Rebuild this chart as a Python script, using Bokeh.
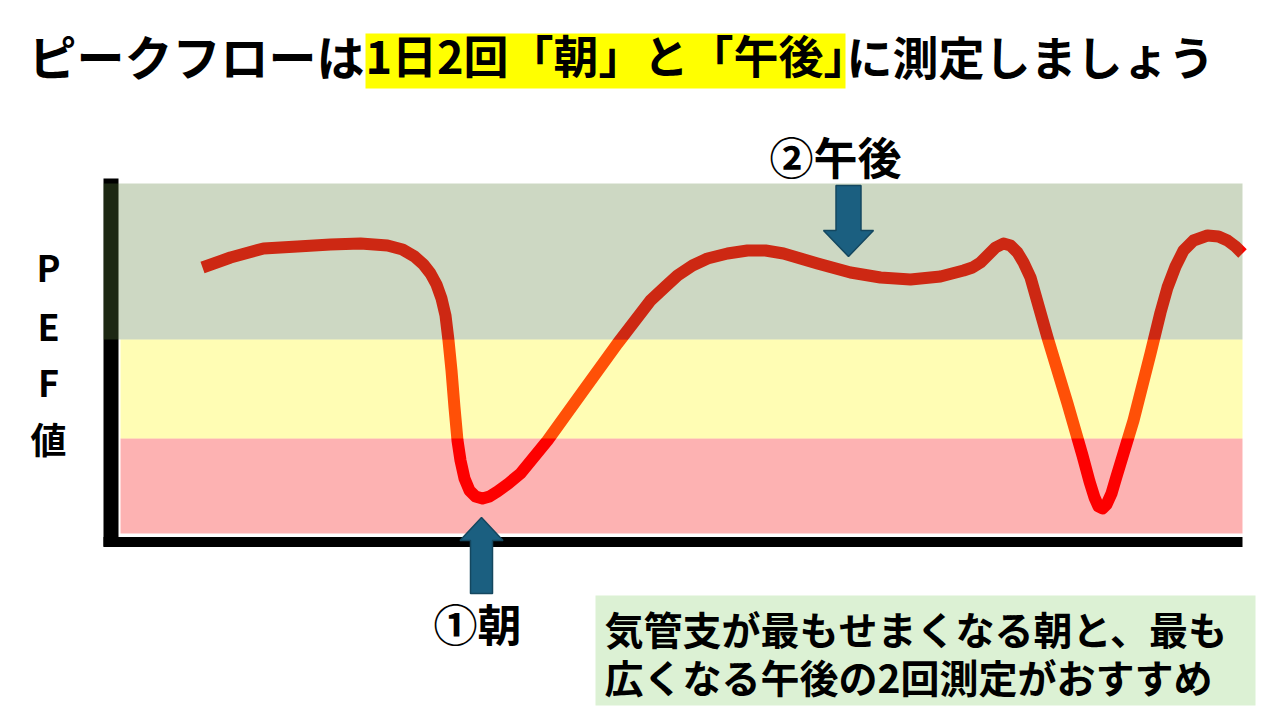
from bokeh.plotting import figure
from bokeh.models import Range1d
from bokeh.core.properties import value
from bokeh.embed import file_html
from bokeh.resources import INLINE

# ---- data (schematic PEF curve) ----
time = [82, 110, 143, 177, 210, 240, 267, 282, 294, 303, 310, 316, 321, 325, 328,
        331, 334, 337, 340, 344, 349, 355, 362, 369, 377, 388, 400, 427, 463, 497,
        530, 545, 557, 572, 587, 607, 627, 645, 663, 697, 730, 760, 790, 820, 843,
        852, 860, 868, 875, 883, 890, 897, 903, 910, 927, 947, 962, 969, 974, 978,
        982, 986, 991, 996, 1013, 1030, 1040, 1047, 1055, 1063, 1073, 1087, 1098, 1107,
        1115, 1122]
pef = [266, 276, 285, 287, 289, 290, 288, 284, 277, 269, 260, 249, 235, 218, 193,
       163, 126, 93, 73, 55, 43, 37, 35, 37, 42, 50, 60, 93, 143, 190,
       233, 247, 258, 268, 275, 280, 283, 283, 280, 270, 261, 256, 254, 257, 263,
       266, 271, 279, 286, 290, 288, 281, 271, 256, 196, 130, 78, 52, 36, 27,
       25, 29, 40, 57, 113, 180, 221, 246, 267, 283, 293, 298, 297, 293,
       287, 280]

# zones (bottom, top) : red / yellow / green
zone_names = ["red", "yellow", "green"]
zone_bottom = [0, 95, 194]
zone_top = [95, 194, 350]
time_end = 1122

# measurement moments
morning_time = 361
afternoon_time = 728

title_parts = ["ピークフローは", "1日2回「朝」と「午後」", "に測定しましょう"]
ylabel_chars = ["P", "E", "F", "値"]
note_lines = ["気管支が最もせまくなる朝と、最も", "広くなる午後の2回測定がおすすめ"]

FONT = value("Noto Sans CJK JP")

p = figure(width=1272, height=712, output_backend="svg", toolbar_location=None,
           x_range=Range1d(-120, 1152), y_range=Range1d(-179, 533),
           x_axis_location=None, y_axis_location=None, min_border=0,
           outline_line_color=None, background_fill_color="white",
           border_fill_color="white")
p.xgrid.visible = False
p.ygrid.visible = False

# axes (thick black lines)
p.segment(x0=-9.5, y0=-13, x1=-9.5, y1=zone_top[-1] + 5, line_color="black",
          line_width=15, line_cap="butt")
p.segment(x0=-17, y0=-8.5, x1=time_end, y1=-8.5, line_color="black",
          line_width=10, line_cap="butt")

# the PEF curve (drawn under translucent zone bands)
p.line(time, pef, line_color="#ff0000", line_width=12, line_join="round", line_cap="butt")

# translucent zone bands over the curve
band_colors = {"red": "#f70000", "yellow": "#fffa16", "green": "#5e813d"}
band_alpha = {"red": 0.30, "yellow": 0.32, "green": 0.31}
for name, b, t in zip(zone_names, zone_bottom, zone_top):
    left = -17 if name == "green" else 0
    p.quad(left=left, right=time_end, bottom=b, top=t, fill_color=band_colors[name],
           fill_alpha=band_alpha[name], line_color=None)

# arrows
ARROW_FILL = "#1b5f80"
ARROW_LINE = "#14475f"
# up arrow (morning)
m = morning_time
p.patch([m, m + 21.5, m + 11, m + 11, m - 11, m - 11, m - 21.5],
        [16, -7, -7, -60, -60, -7, -7], fill_color=ARROW_FILL, line_color=ARROW_LINE,
        line_width=1.5)
# down arrow (afternoon)
a = afternoon_time
p.patch([a, a + 25, a + 12.5, a + 12.5, a - 12.5, a - 12.5, a - 25],
        [277, 303, 303, 348, 348, 303, 303], fill_color=ARROW_FILL, line_color=ARROW_LINE,
        line_width=1.5)

# title with yellow highlight
p.quad(left=245, right=725, bottom=445, top=500, fill_color="#ffff00", line_color=None)
p.text(x=[-92], y=[479], text=[title_parts[0]], text_font=FONT, text_font_size="48px",
       text_font_style="bold", text_color="black", text_align="left", text_baseline="middle")
p.text(x=[245], y=[479], text=[title_parts[1]], text_font=FONT, text_font_size="45px",
       text_font_style="bold", text_color="black", text_align="left", text_baseline="middle")
p.text(x=[726], y=[479], text=[title_parts[2]], text_font=FONT, text_font_size="46px",
       text_font_style="bold", text_color="black", text_align="left", text_baseline="middle")

# arrow labels
p.text(x=[a - 13], y=[378], text=["②午後"], text_font=FONT, text_font_size="44px",
       text_font_style="bold", text_color="black", text_align="center", text_baseline="middle")
p.text(x=[m - 4], y=[-89], text=["①朝"], text_font=FONT, text_font_size="44px",
       text_font_style="bold", text_color="black", text_align="center", text_baseline="middle")

# y label, stacked characters
p.text(x=[-72] * 4, y=[268, 209, 153, 96], text=ylabel_chars, text_font=FONT,
       text_font_size="36px", text_font_style="bold", text_color="black",
       text_align="center", text_baseline="middle")

# note box
p.quad(left=475, right=1135, bottom=-172, top=-62, fill_color="#dcf1d4", line_color=None)
p.text(x=[484, 484], y=[-94, -142], text=note_lines, text_font=FONT,
       text_font_size="39px", text_font_style="bold", text_color="black",
       text_align="left", text_baseline="middle")

open("out.html", "w").write(file_html(p, INLINE))
